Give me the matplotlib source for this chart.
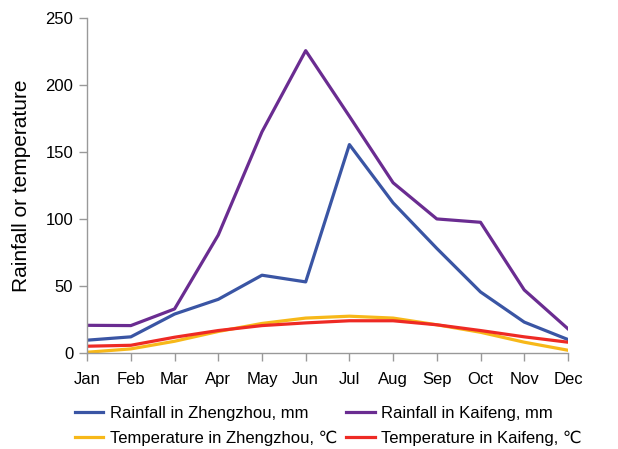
import matplotlib
matplotlib.use("Agg")
import matplotlib.pyplot as plt

months = ["Jan", "Feb", "Mar", "Apr", "May", "Jun", "Jul", "Aug", "Sep", "Oct", "Nov", "Dec"]
rain_zhengzhou = [9.5, 12, 29, 40, 58, 53, 155.5, 112, 78, 45.5, 23, 10]
rain_kaifeng = [20.6, 20.4, 32.8, 88, 165, 225.6, 176.6, 127, 100, 97.5, 47, 18]
temp_zhengzhou = [0.5, 3, 8.7, 16, 22, 26, 27.4, 26, 21, 15.4, 8, 2]
temp_kaifeng = [5, 5.7, 11.7, 16.7, 20.4, 22.4, 24, 24, 21, 16.7, 12, 8]
y_ticks = [0, 50, 100, 150, 200, 250]

plt.rcParams['font.family'] = ['Liberation Sans', 'DejaVu Sans']

fig = plt.figure(figsize=(6.18, 4.49), dpi=100)
ax = fig.add_axes([0.141, 0.214, 0.778, 0.746])

x = list(range(len(months)))
lw = 2.3
h1, = ax.plot(x, rain_zhengzhou, color="#3a55a4", lw=lw, label="Rainfall in Zhengzhou, mm")
h2, = ax.plot(x, rain_kaifeng, color="#6a2c91", lw=lw, label="Rainfall in Kaifeng, mm")
h3, = ax.plot(x, temp_zhengzhou, color="#f7b819", lw=lw, label="Temperature in Zhengzhou, \u2103")
h4, = ax.plot(x, temp_kaifeng, color="#ee2a24", lw=lw, label="Temperature in Kaifeng, \u2103")

ax.set_xlim(0, 11)
ax.set_ylim(0, 250)
ax.set_xticks(x)
ax.set_xticklabels(months, fontsize=12)
ax.set_yticks(y_ticks)
ax.tick_params(axis='y', labelsize=12, length=6, color="#999999", width=1, pad=4)
ax.tick_params(axis='x', length=6, color="#999999", width=1, pad=8)
for s in ["top", "right"]:
    ax.spines[s].set_visible(False)
for s in ["left", "bottom"]:
    ax.spines[s].set_color("#999999")
    ax.spines[s].set_linewidth(1)
ax.set_ylabel("Rainfall or temperature", fontsize=15, labelpad=10)

handles = [h1, h3, h2, h4]
labels = [h.get_label() for h in handles]
leg = fig.legend(handles, labels, ncol=2, loc="upper left", bbox_to_anchor=(75 / 618, 1 - 406 / 449),
                 frameon=False, fontsize=12, handlelength=1.7, handletextpad=0.4,
                 columnspacing=0.55, labelspacing=0.55, borderpad=0, borderaxespad=0)

fig.savefig("out.png", dpi=100)
